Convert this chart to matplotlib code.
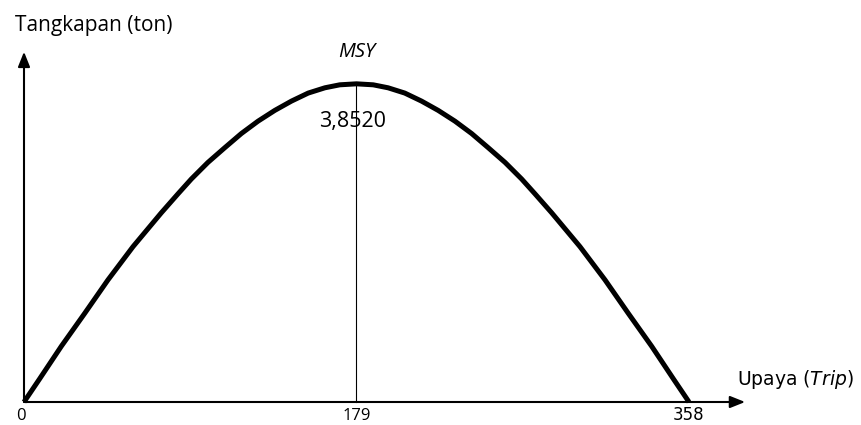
import matplotlib
matplotlib.use("Agg")
import matplotlib.pyplot as plt

# Data (yield curve, effort in trips, catch in tons)
effort = [0, 8.4, 20.1, 32.7, 45.2, 58.7, 73.9, 82.9, 90.1, 99, 108, 117, 126,
          135, 144, 153, 162, 170, 179,
          188, 196, 205, 214, 223, 232, 241, 250, 259, 267.9, 275.1, 284.1,
          299.3, 312.8, 325.3, 337.9, 349.6, 358]
catch = [0, 0.28, 0.675, 1.074, 1.478, 1.881, 2.29, 2.52, 2.70, 2.90, 3.077,
         3.25, 3.40, 3.53, 3.643, 3.74, 3.804, 3.840, 3.852,
         3.840, 3.804, 3.74, 3.643, 3.53, 3.40, 3.25, 3.077, 2.90, 2.70, 2.52,
         2.29, 1.881, 1.478, 1.074, 0.675, 0.28, 0]
tick_values = [0, 179, 358]
tick_labels = ["0", "179", "358"]
msy_effort = 179
msy_value = 3.852
msy_label = "3,8520"

plt.rcParams["mathtext.fontset"] = "dejavusans"

W, H = 862, 425
fig = plt.figure(figsize=(W / 100, H / 100), dpi=100)
ax = fig.add_axes([0, 0, 1, 1])
ax.set_axis_off()

x0px, sx = 24, 1.8575      # pixel of x=0, pixels per trip
y0px, sy = 402, 82.6       # pixel (from top) of y=0, pixels per ton
ax.set_xlim(-x0px / sx, (W - x0px) / sx)
ax.set_ylim(-(H - y0px) / sy, y0px / sy)

# axes with arrows
arrow = dict(arrowstyle="-|>,head_length=0.9,head_width=0.36", lw=1.5,
             color="black", shrinkA=0, shrinkB=0)
ax.annotate("", xy=(388.2, 0), xytext=(0, 0), arrowprops=arrow)
ax.annotate("", xy=(0, 4.24), xytext=(0, 0), arrowprops=arrow)

# curve
ax.plot(effort, catch, color="black", lw=3.6, solid_joinstyle="round",
        solid_capstyle="butt", antialiased=True)
# MSY vertical line
ax.plot([msy_effort, msy_effort], [0, msy_value], color="black", lw=0.8)

calibri_like = ["Open Sans", "DejaVu Sans"]

ax.text(msy_effort, (y0px - 56.7) / sy, "MSY", family=calibri_like,
        style="italic", fontsize=14.5, ha="center", va="baseline")
ax.text(177, (y0px - 126.7) / sy, msy_label, family=calibri_like,
        fontsize=15.5, ha="center", va="baseline")

fig.text(15 / W, 1 - 31 / H, "Tangkapan (ton)", family=calibri_like,
         fontsize=15, ha="left", va="baseline")

ax.text((737 - x0px) / sx, (y0px - 385) / sy, r"Upaya ($\mathit{Trip}$)",
        family="DejaVu Sans", fontsize=13.5, ha="left", va="baseline")

for v, lab in zip(tick_values, tick_labels):
    fam = "DejaVu Sans" if lab == "358" else calibri_like
    ax.text(v - (1.5 if v == 0 else 0), (y0px - 420) / sy, lab, family=fam,
            fontsize=12, ha="center", va="baseline")

fig.savefig("out.png", dpi=100)
